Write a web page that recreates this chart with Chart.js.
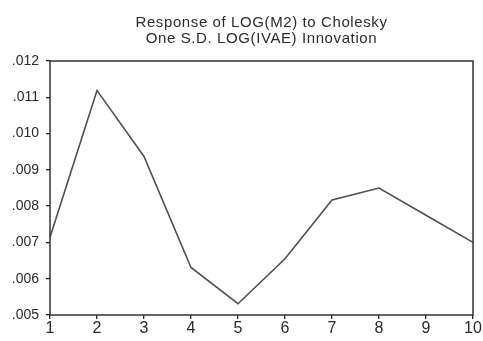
<!DOCTYPE html>
<html>
<head>
<meta charset="utf-8">
<script src="https://cdn.jsdelivr.net/npm/chart.js@4/dist/chart.umd.min.js"></script>
<style>
  html, body { margin: 0; padding: 0; background: #fff; }
  #wrap { width: 483px; height: 341px; }
</style>
</head>
<body>
<div id="wrap"><canvas id="irf-chart"></canvas></div>
<script>
// impulse response periods and values
var periods = ['1', '2', '3', '4', '5', '6', '7', '8', '9', '10'];
var responseM2 = [0.00714, 0.01119, 0.00937, 0.00631, 0.00531, 0.00655, 0.00817, 0.0085, 0.00775, 0.0070];
var titleLines = ['Response of LOG(M2) to Cholesky', 'One S.D. LOG(IVAE) Innovation'];
var yMin = 0.005, yMax = 0.012, yStep = 0.001;

var textColor = '#2b2b2b';
var frameColor = '#333333';

// box around the plot area and the two-line heading above it
var framePlugin = {
    id: 'frame',
    afterDraw: function (chart) {
        var ctx = chart.ctx;
        var a = chart.chartArea;
        ctx.save();
        ctx.strokeStyle = frameColor;
        ctx.lineWidth = 1.5;
        ctx.strokeRect(a.left, a.top, a.right - a.left, a.bottom - a.top);

        var cx = (a.left + a.right) / 2;
        ctx.fillStyle = textColor;
        ctx.font = '15px "Liberation Sans", Arial, sans-serif';
        ctx.letterSpacing = '0.6px';
        ctx.textAlign = 'center';
        ctx.textBaseline = 'alphabetic';
        ctx.fillText(titleLines[0], cx, 27);
        ctx.fillText(titleLines[1], cx, 43);
        ctx.restore();
    }
};

var ctx = document.getElementById('irf-chart').getContext('2d');
new Chart(ctx, {
    type: 'line',
    data: {
        labels: periods,
        datasets: [{
            label: 'LOG(M2)',
            data: responseM2,
            borderColor: '#505050',
            borderWidth: 1.6,
            pointRadius: 0,
            tension: 0,
            fill: false
        }]
    },
    options: {
        responsive: true,
        maintainAspectRatio: false,
        animation: false,
        layout: { padding: { top: 61, right: 10, left: 0, bottom: 0 } },
        plugins: {
            legend: { display: false },
            tooltip: { enabled: false }
        },
        scales: {
            x: {
                offset: false,
                grid: { drawOnChartArea: false, drawTicks: true, tickLength: 4, lineWidth: 1.3, color: '#222' },
                border: { display: false },
                ticks: {
                    color: textColor,
                    padding: 0,
                    maxRotation: 0,
                    autoSkip: false,
                    font: { family: '"Liberation Sans", Arial, sans-serif', size: 16 }
                },
                afterFit: function (scale) { scale.height = 26; }
            },
            y: {
                min: yMin,
                max: yMax,
                grid: { drawOnChartArea: false, drawTicks: true, tickLength: 4, lineWidth: 1.3, color: '#222' },
                border: { display: false },
                ticks: {
                    stepSize: yStep,
                    color: textColor,
                    padding: 7,
                    font: { family: '"Liberation Sans", Arial, sans-serif', size: 14 },
                    callback: function (v) { return v.toFixed(3).replace(/^0/, ''); }
                },
                afterFit: function (scale) { scale.width = 50; }
            }
        }
    },
    plugins: [framePlugin]
});
</script>
</body>
</html>
